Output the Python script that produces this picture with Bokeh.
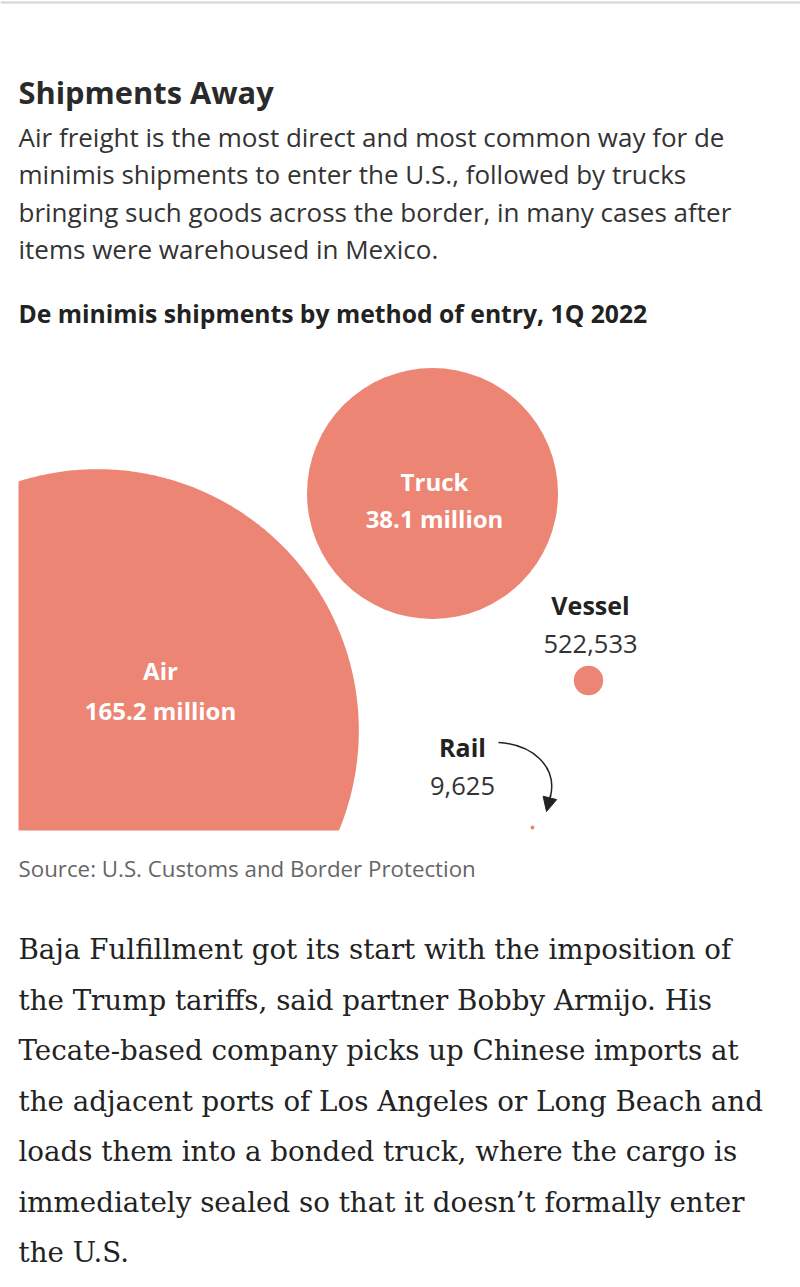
import math
import numpy as np
from bokeh.plotting import figure
from bokeh.models import ColumnDataSource, Range1d, Arrow, NormalHead, Span
from bokeh.core.properties import value
from bokeh.embed import file_html
from bokeh.resources import INLINE

# ---------------- data ----------------
categories = ["Air", "Truck", "Vessel", "Rail"]
shipments = [165_200_000, 38_100_000, 522_533, 9_625]
value_labels = ["165.2 million", "38.1 million", "522,533", "9,625"]

title = "Shipments Away"
subtitle_lines = [
    "Air freight is the most direct and most common way for de",
    "minimis shipments to enter the U.S., followed by trucks",
    "bringing such goods across the border, in many cases after",
    "items were warehoused in Mexico.",
]
chart_title = "De minimis shipments by method of entry, 1Q 2022"
source_note = "Source: U.S. Customs and Border Protection"
body_lines = [
    "Baja Fulfillment got its start with the imposition of",
    "the Trump tariffs, said partner Bobby Armijo. His",
    "Tecate-based company picks up Chinese imports at",
    "the adjacent ports of Los Angeles or Long Beach and",
    "loads them into a bonded truck, where the cargo is",
    "immediately sealed so that it doesn\u2019t formally enter",
    "the U.S.",
]

# ---------------- layout / style ----------------
W, H = 800, 1287
SALMON = "#ec8574"
SANS = "Open Sans"
SERIF = "DejaVu Serif"

centers_x = [97, 432, 588, 532]
centers_y = [730, 493, 680, 827]
chart_left, chart_bottom = 18, 830
px_per_sqrt = 125.5 / math.sqrt(38_100_000)
radii = [px_per_sqrt * math.sqrt(v) for v in shipments]

p = figure(width=W, height=H, output_backend="svg", toolbar_location=None,
           x_range=Range1d(0, W), y_range=Range1d(H, 0),
           x_axis_location=None, y_axis_location=None, min_border=0,
           background_fill_color="white", border_fill_color="white")
p.outline_line_color = None
p.grid.visible = False

p.add_layout(Span(location=2, dimension="width", line_color="#d4d4d4", line_width=2))

# Air bubble, clipped to the chart box (left and bottom edges)
theta = np.linspace(0, 2 * np.pi, 721)
air_x = np.maximum(centers_x[0] + radii[0] * np.cos(theta), chart_left)
air_y = np.minimum(centers_y[0] + radii[0] * np.sin(theta), chart_bottom)
p.patch(air_x, air_y, fill_color=SALMON, line_color=None)

src = ColumnDataSource(dict(x=centers_x[1:], y=centers_y[1:], r=radii[1:], cat=categories[1:]))
p.circle(x="x", y="y", radius="r", source=src, fill_color=SALMON, line_color=None)


def txt(x, y, s, size, color="#222", style="normal", font=SANS, align="left"):
    p.text(x=[x], y=[y], text=[s], text_font=value(font), text_font_size=value(size),
           text_font_style=style, text_color=color, text_align=align,
           text_baseline="middle")


txt(18, 91, title, "30.8px", "#2a2a2a", "bold")
for i, line in enumerate(subtitle_lines):
    txt(18, 136 + i * 37.5, line, "26px", "#333")
txt(18, 313, chart_title, "24.7px", "#222", "bold")

# bubble labels
txt(160, 670, categories[0], "24px", "white", "bold", align="center")
txt(160, 710, value_labels[0], "24px", "white", "bold", align="center")
txt(434, 481, categories[1], "24px", "white", "bold", align="center")
txt(434, 518, value_labels[1], "24px", "white", "bold", align="center")
txt(590, 604, categories[2], "25px", "#222", "bold", align="center")
txt(590, 643, value_labels[2], "25.5px", "#333", align="center")
txt(462, 746, categories[3], "25px", "#222", "bold", align="center")
txt(462, 785, value_labels[3], "25.5px", "#333", align="center")

# rail pointer arrow
p.bezier(x0=[498], y0=[742], x1=[550], y1=[796], cx0=[532], cy0=[744],
         cx1=[557], cy1=[766], line_color="#222", line_width=1.5)
p.add_layout(Arrow(end=NormalHead(size=14, fill_color="#222", line_color="#222"),
                   x_start=550, y_start=795, x_end=546, y_end=811,
                   line_color="#222", line_width=1.5))

txt(18, 868, source_note, "22.3px", "#666")

for i, line in enumerate(body_lines):
    txt(18, 949 + i * 50.5, line, "27.7px", "#222", font=SERIF)

open("out.html", "w").write(file_html(p, INLINE))
